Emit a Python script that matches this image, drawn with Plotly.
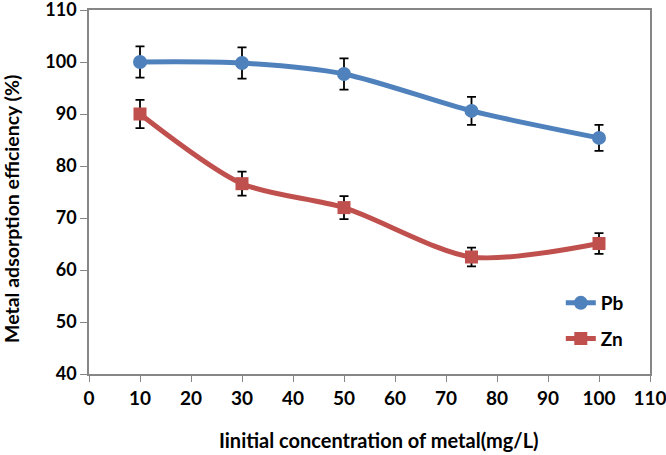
import plotly.graph_objects as go

concentration = [10, 30, 50, 75, 100]
pb_values = [100.0, 99.8, 97.7, 90.6, 85.4]
pb_errors = [3.0, 3.0, 3.0, 2.7, 2.5]
zn_values = [90.0, 76.6, 72.0, 62.5, 65.1]
zn_errors = [2.7, 2.3, 2.2, 1.8, 2.0]

x_ticks = list(range(0, 111, 10))
y_ticks = list(range(40, 111, 10))

BLUE = "#4F81BD"
RED = "#C0504D"
AXIS = "#868686"
FONT = "Lato"

TOP = 10
BOTTOM_AXIS = 374

fig = go.Figure()
fig.add_trace(go.Scatter(
    x=concentration, y=pb_values, name="Pb", mode="lines+markers", legendgroup="pb",
    line=dict(color=BLUE, width=5, shape="spline", smoothing=0.8),
    marker=dict(symbol="circle", size=14, color=BLUE),
    error_y=dict(type="data", array=pb_errors, visible=True, color="black", thickness=1.8, width=4.5),
))
fig.add_trace(go.Scatter(
    x=concentration, y=zn_values, name="Zn", mode="lines+markers", legendgroup="zn",
    line=dict(color=RED, width=5, shape="spline", smoothing=0.8),
    marker=dict(symbol="square", size=13, color=RED),
    error_y=dict(type="data", array=zn_errors, visible=True, color="black", thickness=1.8, width=4.5),
))

fig.update_layout(
    width=666, height=455,
    margin=dict(l=89, r=16, t=TOP, b=455 - BOTTOM_AXIS, autoexpand=False),
    paper_bgcolor="white", plot_bgcolor="white",
    font=dict(family=FONT, size=16, color="black"),
    showlegend=True,
    legend=dict(x=0.841, y=(BOTTOM_AXIS - 284) / (BOTTOM_AXIS - TOP), xanchor="left", yanchor="top",
                bgcolor="rgba(0,0,0,0)", font=dict(family=FONT, size=19, color="black", weight="bold"),
                tracegroupgap=8),
    xaxis=dict(range=[0, 110], tickvals=x_ticks, ticktext=[str(v) for v in x_ticks],
               showgrid=False, zeroline=False, showline=True, linecolor=AXIS, linewidth=1.5,
               mirror=True, ticks="outside", ticklen=6, tickcolor=AXIS, tickwidth=1.2,
               ticklabeloverflow="allow", automargin=False,
               tickfont=dict(family=FONT, size=19, color="black", weight="bold")),
    yaxis=dict(range=[40, 110], tickvals=y_ticks, ticktext=[str(v) for v in y_ticks],
               showgrid=False, zeroline=False, showline=True, linecolor=AXIS, linewidth=1.5,
               mirror=True, ticks="outside", ticklen=7, tickcolor=AXIS, tickwidth=1.2,
               ticklabeloverflow="allow", automargin=False,
               tickfont=dict(family=FONT, size=18, color="black", weight="bold")),
    annotations=[
        dict(text="<b>Iinitial concentration of metal(mg/L)</b>", xref="paper", yref="paper",
             x=(379 - 89) / (650 - 89), y=-(440 - BOTTOM_AXIS) / (BOTTOM_AXIS - TOP),
             xanchor="center", yanchor="middle",
             showarrow=False, font=dict(family=FONT, size=20, color="black")),
        dict(text="<b>Metal adsorption efficiency (%)</b>", xref="paper", yref="paper",
             x=-(89 - 11) / (650 - 89), y=(BOTTOM_AXIS - 209) / (BOTTOM_AXIS - TOP),
             xanchor="center", yanchor="middle",
             textangle=-90, showarrow=False, font=dict(family=FONT, size=19.5, color="black")),
    ],
)

fig.write_html("out.html", config={"displayModeBar": False},
               post_script="document.body.style.margin='0px';document.body.style.overflow='hidden';")
